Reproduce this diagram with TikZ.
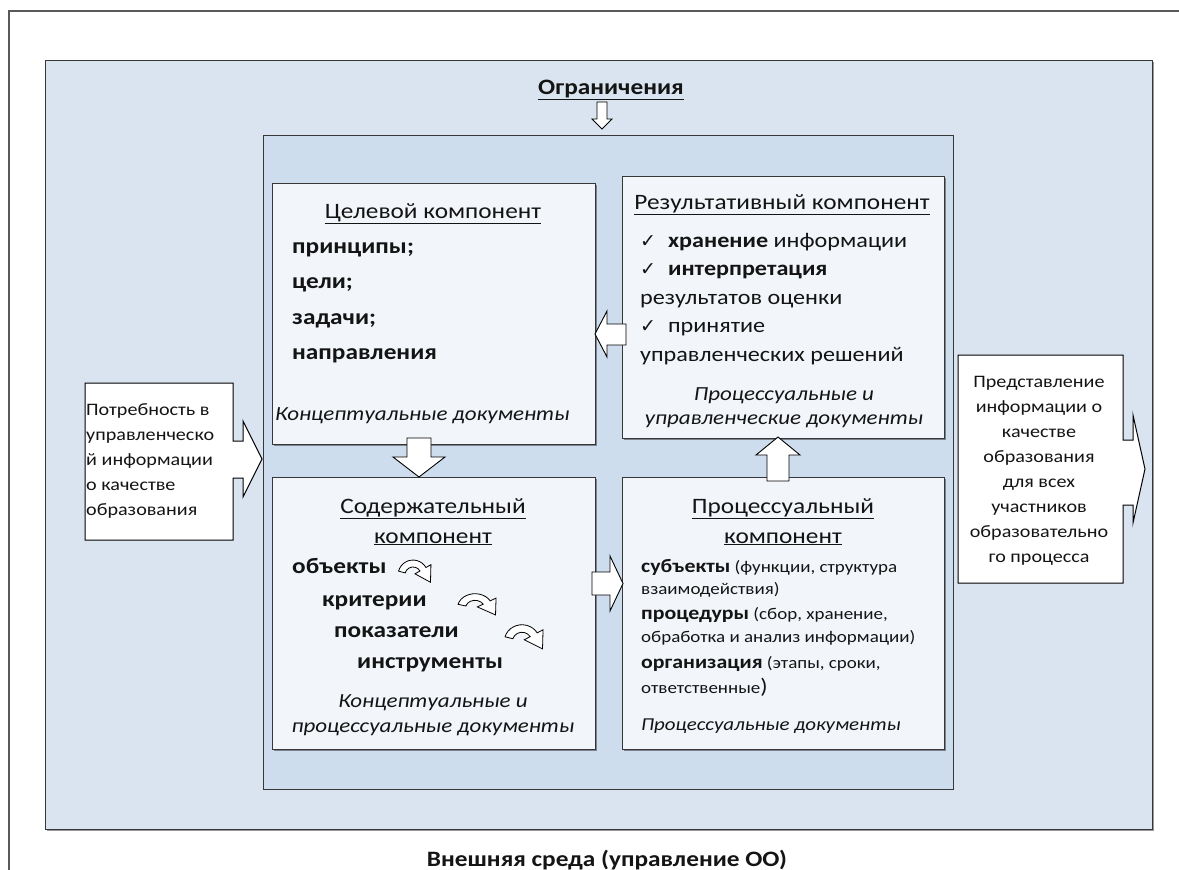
\documentclass[tikz,border=0pt]{standalone}
\usepackage{fontspec}
\setmainfont[FakeStretch=1.15]{Carlito}
\newfontfamily\symf{DejaVu Sans}
\usetikzlibrary{shadows}
\definecolor{outerbg}{RGB}{218,228,240}
\definecolor{innerbg}{RGB}{205,221,237}
\definecolor{boxbg}{RGB}{242,246,251}
\definecolor{edge}{RGB}{55,55,55}
\definecolor{txt}{RGB}{20,20,20}
\newcommand\chk{{\symf\fontsize{19}{20}\selectfont ✓}\hspace{12pt}}
\begin{document}
\begin{tikzpicture}[x=1pt,y=-1pt,
  frame/.style={draw=edge, line width=1.3pt},
  shad/.style={drop shadow={shadow xshift=1.5pt,shadow yshift=-1.5pt,opacity=0.4,fill=black}},
  compbox/.style={frame, fill=boxbg, shad, anchor=north west, inner sep=0},
  sidebox/.style={draw=black, line width=1pt, fill=white, line join=miter},
  blk/.style={draw=black, line width=0.9pt, fill=white, line join=miter},
  ttl/.style={font=\fontsize{22}{30}\selectfont, align=center, anchor=base, text=txt, inner sep=0},
  bld/.style={font=\fontsize{22}{35.5}\selectfont\bfseries, align=left, anchor=base west, text=txt, inner sep=0},
  res/.style={font=\fontsize{21}{28.5}\selectfont, align=left, anchor=base west, text=txt, inner sep=0},
  doc/.style={font=\fontsize{20}{24.5}\selectfont\itshape, align=center, anchor=base, text=txt, inner sep=0},
  side/.style={font=\fontsize{17.5}{25}\selectfont, anchor=base, text=txt, inner sep=0},
  curvarr/.pic={
    \begin{scope}[yscale=-1]
      \draw[blk, line width=0.8pt] (165:13) arc[start angle=165,end angle=30,radius=13]
        -- (30:18) -- (15.2,-6.3) -- (30:2) -- (30:7)
        arc[start angle=30,end angle=165,radius=7] -- cycle;
    \end{scope}}
]
\useasboundingbox (0,0) rectangle (1179,870);
% page frame
\draw[draw=gray!70!black, line width=1.4pt] (9,875) -- (9,11) -- (1185,11);
% outer environment
\node[frame, fill=outerbg, shad, anchor=north west, inner sep=0, minimum width=1107, minimum height=769] (env) at (45,60) {};
\node[font=\fontsize{22}{26}\selectfont\bfseries, anchor=base, text=txt, inner sep=0] (lim) at (611,94) {\underline{Ограничения}};
% inner system
\node[draw=edge, line width=1.1pt, fill=innerbg, anchor=north west, inner sep=0, minimum width=690, minimum height=654] (sys) at (263,135) {};
\draw[blk, line width=0.8pt] (597,102) -- (607,102) -- (607,119) -- (612,119) -- (602,129) -- (592,119) -- (597,119) -- cycle;
% component boxes
\node[compbox, minimum width=323, minimum height=261] (goal) at (272,183) {};
\node[compbox, minimum width=322, minimum height=262] (result) at (622,176) {};
\node[compbox, minimum width=323, minimum height=272] (content) at (272,477) {};
\node[compbox, minimum width=322, minimum height=272] (process) at (622,477) {};
% block arrows between components
\draw[blk] (407,438) -- (431,438) -- (431,457) -- (445,457) -- (419,477) -- (393,457) -- (407,457) -- cycle;
\draw[blk] (626,324) -- (607,324) -- (607,311) -- (595,334) -- (607,357) -- (607,345) -- (626,345) -- cycle;
\draw[blk] (767,481) -- (767,455) -- (756,455) -- (778,437) -- (800,455) -- (789,455) -- (789,481) -- cycle;
\draw[blk] (592,572) -- (610,572) -- (610,556) -- (623,583.5) -- (610,611) -- (610,595) -- (592,595) -- cycle;
% side callouts
\draw[sidebox] (85,383) -- (233,383) -- (233,441) -- (243,441) -- (243,421) -- (262,459)
  -- (243,497) -- (243,478) -- (233,478) -- (233,540) -- (85,540) -- cycle;
\draw[sidebox] (958,355) -- (1123,355) -- (1123,440) -- (1133,440) -- (1133,415) -- (1145,469)
  -- (1133,523) -- (1133,505) -- (1123,505) -- (1123,583) -- (958,583) -- cycle;
\node[side, align=left, anchor=base west] (need) at (86,515)
  {Потребность в\\управленческо\\й информации\\о качестве\\образования};
\node[side, align=center] (pres) at (1039,562)
  {Представление\\информации о\\качестве\\образования\\для всех\\участников\\образовательно\\го процесса};
% goal component text
\node[ttl] (goalT) at (433,218) {\underline{Целевой компонент}};
\node[bld] (goalL) at (292,359.5) {принципы;\\цели;\\задачи;\\направления};
\node[doc, anchor=base west] (goalD) at (275,420) {Концептуальные документы};
% result component text
\node[ttl] (resT) at (782,209) {\underline{Результативный компонент}};
\node[res] (resL) at (640,361)
  {\chk\textbf{хранение} информации\\
   \chk\textbf{интерпретация}\\
   результатов оценки\\
   \chk принятие\\
   управленческих решений};
\node[doc] (resD) at (784,424.5) {Процессуальные и\\управленческие документы};
% content component text
\node[ttl] (conT) at (433,543) {\underline{Содержательный}\\\underline{компонент}};
\node[bld, font=\fontsize{22}{26}\selectfont\bfseries] (c1) at (292,573) {объекты};
\node[bld, font=\fontsize{22}{26}\selectfont\bfseries] (c2) at (322,606) {критерии};
\node[bld, font=\fontsize{22}{26}\selectfont\bfseries] (c3) at (334,637) {показатели};
\node[bld, font=\fontsize{22}{26}\selectfont\bfseries] (c4) at (357,668) {инструменты};
\pic[scale=1.15] at (413,575) {curvarr};
\pic[xscale=1.35, yscale=1.1] at (475,608) {curvarr};
\pic[xscale=1.35, yscale=1.25] at (522,641) {curvarr};
\node[doc] (conD) at (433,732) {Концептуальные и\\процессуальные документы};
% process component text
\node[ttl] (proT) at (783,543) {\underline{Процессуальный}\\\underline{компонент}};
\node[res, font=\fontsize{16.5}{23}\selectfont] (proL) at (641,693)
  {{\fontsize{19}{23}\selectfont\bfseries субъекты} (функции, структура\\[-1pt]
   взаимодействия)\\[2pt]
   {\fontsize{19}{23}\selectfont\bfseries процедуры} (сбор, хранение,\\
   обработка и анализ информации)\\[3pt]
   {\fontsize{19}{23}\selectfont\bfseries организация} (этапы, сроки,\\[2pt]
   ответственные{\fontsize{21}{23}\selectfont )}};
\node[doc, anchor=base west, font=\fontsize{18.2}{22}\selectfont\itshape] (proD) at (641,730) {Процессуальные документы};
% bottom caption
\node[font=\fontsize{22}{26}\selectfont\bfseries, anchor=base, text=txt, inner sep=0] (ext) at (607,866) {Внешняя среда (управление ОО)};
\end{tikzpicture}
\end{document}
